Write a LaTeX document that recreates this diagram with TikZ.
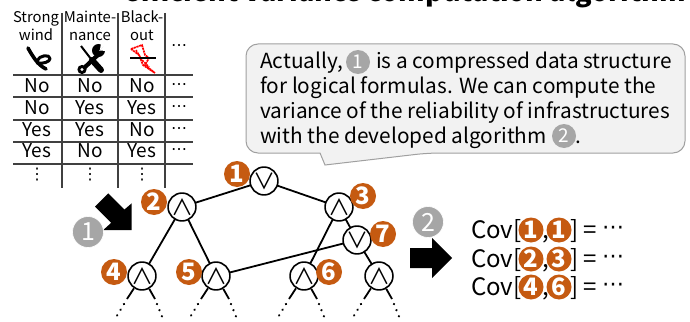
\documentclass[tikz,border=0pt]{standalone}
\usepackage{fontspec}
\setmainfont{Noto Sans CJK JP}
\newfontfamily\dvfont{DejaVu Sans}
\definecolor{orng}{HTML}{C55A11}
\definecolor{gry}{HTML}{A6A6A6}
\definecolor{bub}{HTML}{F2F2F2}
\definecolor{bubline}{HTML}{A0A0A0}
\tikzset{
  gate/.style={circle,draw=black,line width=1.6pt,fill=white,minimum size=27pt,inner sep=0pt,font=\fontsize{22}{22}\selectfont},
  numo/.style={circle,fill=orng,text=white,minimum size=26pt,inner sep=0pt,font=\fontsize{24}{24}\selectfont\bfseries},
  numg/.style={circle,fill=gry,draw=white,line width=.6pt,text=white,minimum size=31pt,inner sep=0pt,font=\fontsize{25}{25}\selectfont},
  numi/.style={circle,fill=gry,text=white,minimum size=24pt,inner sep=0pt,font=\fontsize{19}{19}\selectfont},
  edge/.style={line width=1.8pt,black},
  tline/.style={line width=1.1pt,black!75},
  cell/.style={font=\fontsize{19}{19}\selectfont,anchor=base,inner sep=0pt},
  head/.style={font=\fontsize{14.8}{14.8}\selectfont,anchor=base,inner sep=0pt},
  dotcell/.style={font=\dvfont\fontsize{16}{16}\selectfont,inner sep=0pt},
  bubtext/.style={font=\fontsize{20.8}{20.8}\selectfont,anchor=base west,inner sep=0pt},
  covtext/.style={font=\fontsize{24}{24}\selectfont,anchor=base west,inner sep=0pt},
  dotty/.style={line width=2.4pt,line cap=round,dash pattern=on .1pt off 6.5pt},
}
\begin{document}
\begin{tikzpicture}[x=1pt,y=-1pt]
\useasboundingbox (0,0) rectangle (690,321);
\clip (0,0) rectangle (690,321);
\fill[white] (0,0) rectangle (690,321);
% clipped title
\node[anchor=base,inner sep=0pt,font=\fontsize{27}{27}\selectfont\bfseries] (title) at (405,1.5) {efficient variance computation algorithm};
% table
\foreach \x in {62,118,165} \draw[tline] (\x,13) -- (\x,188);
\foreach \y in {75,97,120,142,164} \draw[tline] (13,\y) -- (193,\y);
\node[head] (h1a) at (36,23) {Strong};
\node[head] (h1b) at (36,41) {wind};
\node[head] (h2a) at (90,23) {Mainte-};
\node[head] (h2b) at (90,41) {nance};
\node[head] (h3a) at (142,23) {Black-};
\node[head] (h3b) at (142,41) {out};
\node[dotcell] (hd) at (179,48) {⋯};
\foreach \r/\y/\a/\b/\c in {1/92/No/No/No,2/114/No/Yes/Yes,3/136/Yes/Yes/No,4/157/Yes/No/Yes}{
  \node[cell] (a\r) at (37,\y) {\a};
  \node[cell] (b\r) at (90,\y) {\b};
  \node[cell] (c\r) at (142,\y) {\c};
  \node[dotcell] (d\r) at (179,\y-5) {⋯};
}
\node[dotcell] (va) at (37,175) {⋮};
\node[dotcell] (vb) at (90,175) {⋮};
\node[dotcell] (vc) at (142,175) {⋮};
% wind icon
\draw[line width=3.6pt,line cap=round,line join=round] (28,48) .. controls (33,57) and (38,65) .. (46,69);
\draw[line width=3pt,line cap=round,line join=round] (37,61) .. controls (39,55) and (50,54) .. (50,58.5) .. controls (50,62) and (43,64) .. (37,63);
% tools icon
\draw[line width=2pt] (81,46) -- (91,59);
\draw[line width=6pt,line cap=round] (92,60) -- (101,70);
\draw[line width=4.2pt] (100,53) -- (83,69);
\fill (82,69.5) circle (4.6);
\fill[white] (82,69.5) circle (1.6);
\fill (98.5,50.5) circle (6.5);
\fill[white] (99,50.5) -- (106,44) -- (107,51) -- cycle;
\fill[white] (100,49.5) -- (101,43) -- (106,45) -- cycle;
% blackout icon
\draw[red,line width=1.7pt,line join=miter,dash pattern=on 2.2pt off .7pt] (131,49) -- (142,45) -- (145,55) -- (149,58) -- (145,65) -- (155,73) -- (143,65) -- (139,55) -- cycle;
\draw[red,line width=1.5pt,dash pattern=on 2pt off 1pt] (136,50) -- (142,60) -- (149,67);
\draw[line width=1.3pt] (130,58) -- (156,58);
% bubble
\draw[bubline,fill=bub,line width=1pt,rounded corners=12pt] (246,44) -- (685,44) -- (685,153) -- (428,153) [sharp corners] -- (325,165) -- (320,153) [rounded corners=12pt] -- (246,153) -- cycle;
\node[bubtext] (t1) at (260,68) {Actually,};
\node[numi] (i1) at (358,62) {1};
\node[bubtext] (t1b) at (376,68) {is a compressed data structure};
\node[bubtext] (t2) at (260,93) {for logical formulas. We can compute the};
\node[bubtext] (t3) at (260,118) {variance of the reliability of infrastructures};
\node[bubtext] (t4) at (260,143) {with the developed algorithm};
\node[numi] (i2) at (564,136) {2};
\node[bubtext] (t4b) at (575,143) {.};
% tree
\coordinate (c1) at (264,181);
\coordinate (c2) at (182,207);
\coordinate (c3) at (339,207);
\coordinate (c7) at (357,240);
\coordinate (c4) at (142,276);
\coordinate (c5) at (216,276);
\coordinate (c6) at (304,276);
\coordinate (c8) at (379,276);
\draw[edge] (c1) -- (c2);
\draw[edge] (c1) -- (c3);
\draw[edge] (c2) -- (c4);
\draw[edge] (c2) -- (c5);
\draw[edge] (c3) -- (c6);
\draw[edge] (c3) -- (c7);
\draw[edge] (c7) -- (c8);
\draw[edge] (c5) -- (c7);
\node[gate] (n1) at (c1) {∨};
\node[gate] (n2) at (c2) {∧};
\node[gate] (n3) at (c3) {∧};
\node[gate] (n7) at (c7) {∨};
\node[gate] (n4) at (c4) {∧};
\node[gate] (n5) at (c5) {∧};
\node[gate] (n6) at (c6) {∧};
\node[gate] (n8) at (c8) {∧};
\foreach \n/\x in {n4/142,n5/216,n6/304,n8/379}{
  \coordinate (\n l) at (\x-15,299);
  \coordinate (\n r) at (\x+13,299);
  \coordinate (\n a) at (\x-18,304);
  \coordinate (\n b) at (\x+15,304);
  \coordinate (\n L) at (\x-27,319);
  \coordinate (\n R) at (\x+21,319);
  \draw[edge] (\n) -- (\n l);
  \draw[edge] (\n) -- (\n r);
  \draw[dotty] (\n a) -- (\n L);
  \draw[dotty] (\n b) -- (\n R);
}
\node[numo] (o1) at (237,174) {1};
\node[numo] (o2) at (154,202) {2};
\node[numo] (o3) at (363,196) {3};
\node[numo] (o7) at (383,234) {7};
\node[numo] (o4) at (114,272) {4};
\node[numo] (o5) at (189,272) {5};
\node[numo] (o6) at (329,272) {6};
% block arrows
\fill (108.3,193.3) -- (124.5,209.5) -- (131.7,203.3) -- (131.7,230) -- (103.3,230) -- (111.2,222.8) -- (95,206.7) -- cycle;
\node[numg] (g1) at (88,232) {1};
\fill (410,248) -- (432,248) -- (432,238) -- (452,258) -- (432,278) -- (432,268) -- (410,268) -- cycle;
\node[numg] (g2) at (428,222) {2};
% covariance lines
\foreach \r/\yb/\yc/\p/\q in {1/238/230/1/1,2/267/259/2/3,3/295/287/4/6}{
  \node[covtext] (cov\r) at (471,\yb) {Cov[};
  \node[numo,minimum size=25pt] (p\r) at (531,\yc) {\p};
  \node[numo,minimum size=25pt] (q\r) at (559,\yc) {\q};
  \node[covtext] (com\r) at (542,\yb) {,};
  \node[covtext] (br\r) at (570,\yb) {]};
  \node[covtext] (eq\r) at (583,\yb) {=};
  \node[dotcell,font=\dvfont\fontsize{22}{22}\selectfont] (dd\r) at (613,\yc) {⋯};
}
\end{tikzpicture}
\end{document}
